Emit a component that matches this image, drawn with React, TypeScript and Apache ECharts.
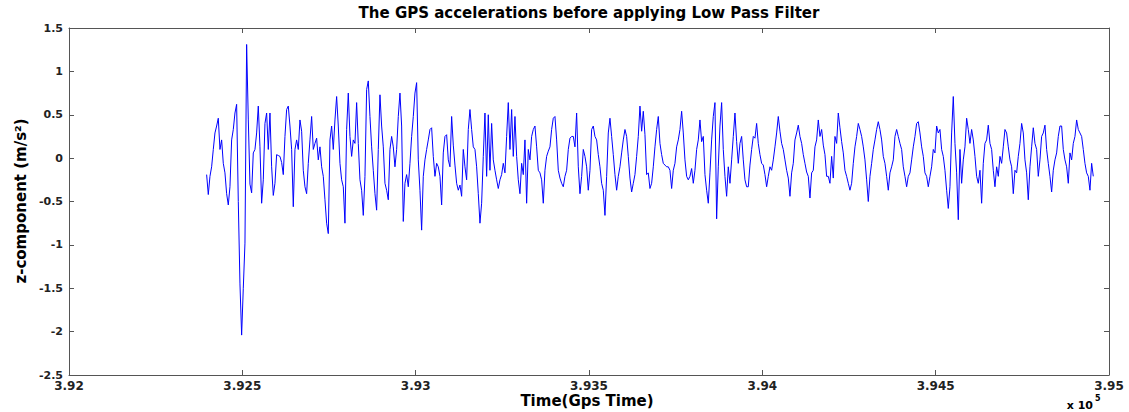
import React, { useEffect, useRef } from "react";
import * as echarts from "echarts";

// Sampling of the GPS record (seconds, GPS time)
const START_TIME = 392397;
const SAMPLE_PERIOD = 4.8077;

// z-component accelerations (m/s^2) in consecutive chunks
const zSeg1 = [-0.19, -0.42, -0.21, -0.10, 0.10, 0.29, 0.37, 0.46, 0.10, 0.21, -0.06, -0.17, -0.41, -0.54, -0.33, 0.21, 0.33, 0.52, 0.62, -0.50, -1.45, -2.04, -1.50, -0.98, 1.31, 0.45, -0.30, -0.40, 0.06, 0.10, 0.29, 0.60, 0.13, -0.52, -0.25, 0.40, 0.52, 0.10, 0.52, -0.10, -0.43, -0.29, 0.04, 0.03, 0.02, -0.05, -0.19];
const zSeg2 = [0.25, 0.56, 0.60, 0.37, 0.10, -0.56, 0.10, 0.21, 0.10, 0.44, 0.31, -0.14, -0.33, -0.41, -0.06, 0.21, 0.48, 0.10, 0.17, 0.23, -0.02, 0.13, -0.10, -0.21, -0.48, -0.75, -0.87, 0.21, 0.37, 0.10, 0.44, 0.71, 0.37, -0.06, -0.25, -0.33, -0.75, 0.33, 0.75, 0.25, 0.02, 0.21, 0.17, 0.64, 0.17, -0.25, -0.37, -0.66, -0.21, 0.79, 0.89, 0.48, 0.13, -0.14];
const zSeg3 = [-0.41, -0.60, 0.10, 0.73, 0.37, 0.13, -0.29, -0.37, -0.48, 0.10, 0.25, 0.13, -0.10, 0.10, 0.48, 0.75, 0.37, -0.73, -0.29, -0.19, -0.33, -0.06, 0.25, 0.48, 0.75, 0.87, -0.02, -0.37, -0.83, -0.21, -0.02, 0.10, 0.21, 0.33, 0.35, 0.02, -0.21, -0.06, -0.10, -0.21, -0.54, 0.06, 0.25, 0.27, -0.02, -0.10, 0.48, 0.15, -0.08, -0.29, -0.37, -0.31, -0.44, 0.10];
const zSeg4 = [-0.10, -0.25, 0.33, 0.56, 0.33, 0.13, 0.10, -0.10, -0.41, -0.75, -0.52, 0.02, 0.52, -0.21, 0.50, -0.14, 0.40, -0.02, -0.14, -0.25, -0.35, -0.25, -0.19, -0.06, -0.17, 0.25, 0.64, 0.10, 0.56, 0.02, 0.48, 0.02, -0.25, -0.41, -0.06, -0.19, 0.21, -0.52, 0.10, -0.02, 0.25, 0.33, 0.37, 0.13, -0.14, -0.17, -0.25, -0.52, -0.14, 0.02, 0.08, 0.13, 0.33, 0.46];
const zSeg5 = [0.48, 0.21, -0.14, -0.23, -0.29, -0.33, -0.21, -0.14, 0.10, 0.23, 0.25, 0.25, 0.13, 0.52, -0.10, -0.41, -0.21, 0.10, 0.02, -0.10, -0.37, -0.14, 0.33, 0.37, 0.25, 0.21, 0.04, -0.10, -0.29, -0.37, -0.66, -0.21, 0.29, 0.46, 0.25, 0.04, -0.19, -0.37, -0.21, -0.10, 0.06, 0.21, 0.33, 0.25, 0.02, -0.23, -0.39, -0.29, -0.19, 0.02, 0.25, 0.60, 0.31, 0.54];
const zSeg6 = [0.27, -0.19, -0.17, -0.35, -0.29, -0.10, 0.13, 0.33, 0.48, 0.17, 0.04, -0.06, -0.08, -0.10, -0.10, -0.14, -0.35, -0.14, -0.06, 0.13, 0.21, 0.33, 0.54, 0.29, -0.02, -0.21, -0.25, -0.21, -0.12, -0.29, -0.14, 0.10, 0.21, 0.44, 0.19, 0.25, -0.19, -0.37, -0.52, -0.17, 0.21, 0.48, 0.64, -0.70, -0.10, 0.37, 0.64, 0.10, -0.21, -0.44, -0.10, -0.29, -0.02, 0.25];
const zSeg7 = [0.52, 0.19, -0.06, 0.17, 0.25, -0.02, -0.25, -0.33, -0.33, -0.08, 0.10, 0.25, 0.23, 0.40, 0.17, 0.04, -0.06, -0.08, -0.19, -0.33, -0.21, -0.10, -0.14, -0.02, 0.13, 0.29, 0.48, 0.31, 0.17, 0.10, -0.02, -0.14, -0.23, -0.44, -0.17, -0.06, 0.21, 0.29, 0.38, 0.25, 0.17, 0.04, -0.06, -0.16, -0.21, -0.46, -0.17, -0.14, 0.13, 0.21, 0.44, 0.25, 0.33, 0.15];
const zSeg8 = [0.04, -0.21, -0.21, -0.29, 0.02, -0.23, 0.25, 0.17, 0.52, 0.35, 0.19, 0.06, -0.14, -0.21, -0.29, -0.37, -0.29, -0.06, 0.13, 0.25, 0.40, 0.33, 0.25, 0.13, -0.02, -0.25, -0.50, -0.21, -0.06, 0.10, 0.21, 0.33, 0.42, 0.33, 0.21, 0.02, -0.06, -0.21, -0.37, -0.17, -0.10, -0.02, 0.25, 0.33, 0.25, 0.17, 0.10, -0.10, -0.21, -0.33, -0.21, -0.17, -0.02, 0.13];
const zSeg9 = [0.25, 0.40, 0.42, 0.29, 0.13, 0.02, -0.17, -0.21, -0.33, -0.21, -0.10, 0.10, 0.06, 0.37, 0.29, 0.33, 0.10, 0.02, -0.14, -0.37, -0.58, -0.33, 0.29, 0.71, 0.17, -0.17, -0.71, 0.10, -0.29, -0.02, 0.13, 0.46, 0.33, 0.17, 0.33, 0.21, 0.02, -0.21, -0.29, -0.14, -0.52, -0.06, 0.17, 0.21, 0.38, 0.17, 0.10, -0.14, -0.33, -0.10, -0.21, 0.02, -0.06, 0.13];
const zSeg10 = [0.33, 0.29, 0.13, -0.02, -0.10, -0.41, -0.14, -0.17, 0.02, 0.17, 0.40, 0.29, -0.02, -0.17, -0.48, -0.10, 0.13, 0.35, 0.17, 0.10, -0.21, -0.02, 0.25, 0.29, 0.38, 0.10, -0.06, -0.21, -0.39, -0.14, -0.02, 0.06, 0.25, 0.37, 0.37, 0.10, -0.02, -0.10, -0.29, 0.06, -0.02, 0.17, 0.25, 0.44, 0.33, 0.29, 0.25, 0.10, -0.06, -0.17, -0.21, -0.37, -0.06, -0.21];

const zValues = [...zSeg1, ...zSeg2, ...zSeg3, ...zSeg4, ...zSeg5, ...zSeg6, ...zSeg7, ...zSeg8, ...zSeg9, ...zSeg10];

// Axis ranges / ticks
const X_MIN = 392000;
const X_MAX = 395000;
const X_INTERVAL = 500;
const X_SCALE = 1e5;
const Y_MIN = -2.5;
const Y_MAX = 1.5;
const Y_INTERVAL = 0.5;

const TITLE = "The GPS accelerations before applying Low Pass Filter";
const X_NAME = "Time(Gps Time)";
const Y_NAME = "z-component (m/s\u00B2)";

const AXIS_COLOR = "#555";
const FONT = "DejaVu Sans";

export default function App() {
  const ref = useRef<HTMLDivElement>(null);

  useEffect(() => {
    document.body.style.margin = "0";
    if (!ref.current) return;
    const chart = echarts.init(ref.current, null, { renderer: "svg" });
    const data = zValues.map((v, i) => [START_TIME + i * SAMPLE_PERIOD, v]);

    const xFmt = (v: number) => String(parseFloat((v / X_SCALE).toFixed(4)));
    const yFmt = (v: number) => String(parseFloat(v.toFixed(2)));

    const baseX = {
      type: "value",
      min: X_MIN,
      max: X_MAX,
      interval: X_INTERVAL,
      splitLine: { show: false },
      axisLine: { show: true, onZero: false, lineStyle: { color: AXIS_COLOR, width: 1 } },
      axisTick: { show: true, inside: true, length: 5, lineStyle: { color: AXIS_COLOR, width: 1 } },
    };
    const baseY = {
      type: "value",
      min: Y_MIN,
      max: Y_MAX,
      interval: Y_INTERVAL,
      splitLine: { show: false },
      axisLine: { show: true, onZero: false, lineStyle: { color: AXIS_COLOR, width: 1 } },
      axisTick: { show: true, inside: true, length: 5, lineStyle: { color: AXIS_COLOR, width: 1 } },
    };

    chart.setOption({
      animation: false,
      backgroundColor: "#ffffff",
      grid: { left: 69, right: 20, top: 28, bottom: 37, containLabel: false },
      xAxis: [
        {
          ...baseX,
          position: "bottom",
          axisLabel: {
            formatter: xFmt,
            fontFamily: FONT,
            fontWeight: "bold",
            fontSize: 12,
            color: "#222",
            margin: 5,
          },
        },
        { ...baseX, position: "top", axisLabel: { show: false } },
      ],
      yAxis: [
        {
          ...baseY,
          position: "left",
          axisLabel: {
            formatter: yFmt,
            fontFamily: FONT,
            fontWeight: "bold",
            fontSize: 11,
            color: "#222",
            margin: 6,
          },
        },
        { ...baseY, position: "right", axisLabel: { show: false } },
      ],
      series: [
        {
          type: "line",
          xAxisIndex: 0,
          yAxisIndex: 0,
          data,
          showSymbol: false,
          symbol: "none",
          lineStyle: { color: "#0000ff", width: 1 },
          silent: true,
        },
      ],
      graphic: [
        {
          type: "text",
          x: 589,
          y: 13,
          style: {
            text: TITLE,
            fontFamily: FONT,
            fontWeight: "bold",
            fontSize: 15,
            fill: "#000",
            align: "center",
            verticalAlign: "middle",
          },
        },
        {
          type: "text",
          x: 587,
          y: 401,
          style: {
            text: X_NAME,
            fontFamily: FONT,
            fontWeight: "bold",
            fontSize: 15,
            fill: "#000",
            align: "center",
            verticalAlign: "middle",
          },
        },
        {
          type: "text",
          x: 21,
          y: 201,
          rotation: Math.PI / 2,
          style: {
            text: Y_NAME,
            fontFamily: FONT,
            fontWeight: "bold",
            fontSize: 15,
            fill: "#000",
            align: "center",
            verticalAlign: "middle",
          },
        },
        {
          type: "text",
          x: 1093,
          y: 405,
          style: {
            text: "x 10",
            fontFamily: FONT,
            fontWeight: "bold",
            fontSize: 11,
            fill: "#000",
            align: "right",
            verticalAlign: "middle",
          },
        },
        {
          type: "text",
          x: 1095,
          y: 398,
          style: {
            text: "5",
            fontFamily: FONT,
            fontWeight: "bold",
            fontSize: 8,
            fill: "#000",
            align: "left",
            verticalAlign: "middle",
          },
        },
      ],
    });

    return () => chart.dispose();
  }, []);

  return <div ref={ref} style={{ width: 1129, height: 412 }} />;
}
